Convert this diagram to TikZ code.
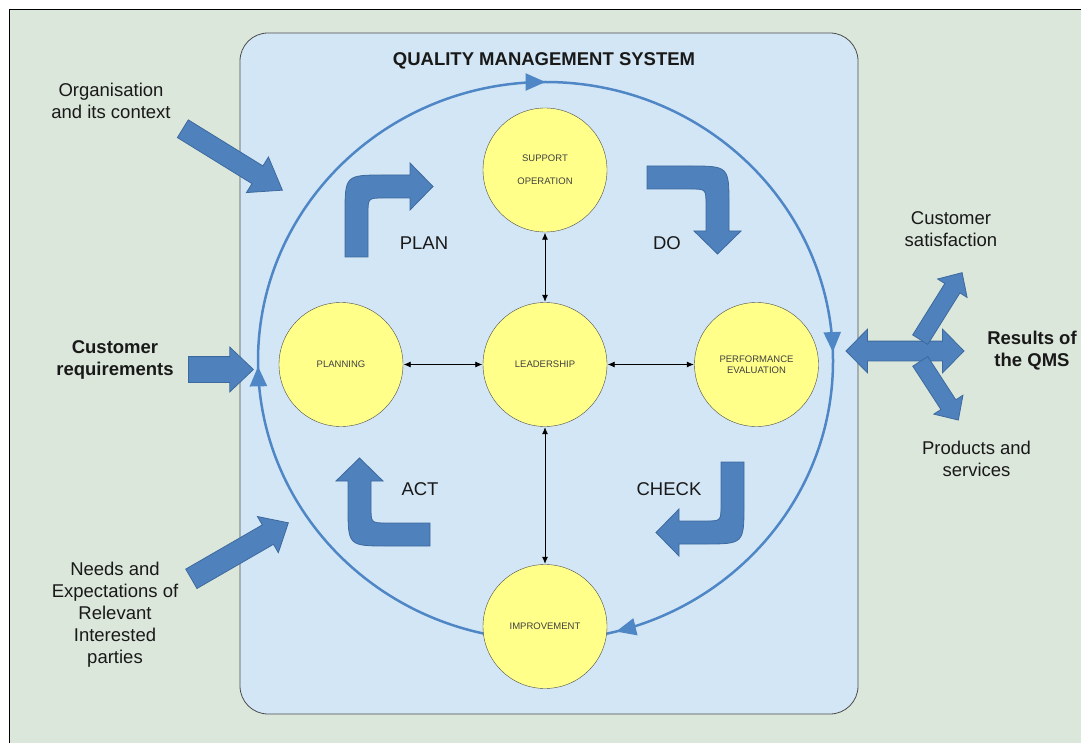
\documentclass[tikz,border=0pt]{standalone}
\usepackage{fontspec}
\setmainfont{Liberation Sans}
\usetikzlibrary{shapes.arrows,arrows.meta,decorations.markings}

\definecolor{pagegreen}{HTML}{DCE7DB}
\definecolor{qmsblue}{HTML}{D3E6F5}
\definecolor{phaseyellow}{HTML}{FFFF8A}
\definecolor{arrowblue}{HTML}{4F81BD}
\definecolor{arrowedge}{HTML}{3D6A9E}
\definecolor{cycleblue}{HTML}{4F86C6}

\tikzset{
	phase/.style = {shape=circle, draw=black!70, fill=phaseyellow, minimum size=124pt, inner sep=0pt, align=center, text=black!75, font=\fontsize{9.5}{11}\selectfont},
	link/.style = {{Latex[length=7pt,width=6pt]}-{Latex[length=7pt,width=6pt]}, black, line width=0.8pt, shorten <=0.5pt, shorten >=0.5pt},
	bent/.style = {draw=arrowedge, fill=arrowblue, line width=0.8pt},
	bigarrow/.style = {single arrow, draw=arrowedge, fill=arrowblue, line width=0.8pt, inner xsep=0pt, minimum width=0pt, anchor=tail},
	sidetext/.style = {align=center, text=black!90, font=\fontsize{18.5}{22}\selectfont},
	boldtext/.style = {align=center, text=black!90, font=\bfseries\fontsize{18.5}{22}\selectfont},
	pdca/.style = {draw=cycleblue, line width=2.5pt, postaction={decorate}, decoration={markings,
		mark=at position 0.005 with {\arrowreversed[cycleblue]{Triangle[length=20pt,width=17pt]}},
		mark=at position 0.25 with {\arrowreversed[cycleblue]{Triangle[length=20pt,width=17pt]}},
		mark=at position 0.503 with {\arrowreversed[cycleblue]{Triangle[length=20pt,width=17pt]}},
		mark=at position 0.79 with {\arrowreversed[cycleblue]{Triangle[length=20pt,width=17pt]}}}},
}

% bent block arrow, drawn going up and turning right
\newcommand{\bentarrow}{%
	\path[bent] (0,0) -- (0,-42) .. controls (0,-82) .. (40,-82) -- (65,-82) -- (65,-94) -- (88,-70.5) -- (65,-47) -- (65,-59) -- (39,-59) .. controls (23,-59) .. (23,-43) -- (23,0) -- cycle;}

\begin{document}
\begin{tikzpicture}[x=1pt, y=-1pt]
	\useasboundingbox (0,0) rectangle (1081,743);
	\fill[pagegreen] (9.5,9.5) rectangle (1081,743);
	\draw[line width=0.8pt] (1081,9.5) -- (9.5,9.5) -- (9.5,743);

	% the system box
	\draw[draw=black!70, fill=qmsblue, line width=0.8pt, rounded corners=28pt] (240,33) rectangle (858,714);
	\node[boldtext] (title) at (544,61) {QUALITY MANAGEMENT SYSTEM};
	\draw[pdca] (545.5,361) ellipse [x radius=287.5pt, y radius=279pt];

	\node[phase] (support) at (545,170) {SUPPORT\\[12pt]OPERATION};
	\node[phase] (planning) at (341,364.5) {PLANNING};
	\node[phase] (leader) at (545,364.5) {LEADERSHIP};
	\node[phase] (perf) at (756.5,364.5) {PERFORMANCE\\EVALUATION};
	\node[phase] (improve) at (545,626.5) {IMPROVEMENT};

	\draw[link] (leader) -- (support);
	\draw[link] (leader) -- (planning);
	\draw[link] (leader) -- (perf);
	\draw[link] (leader) -- (improve);

	\begin{scope}[shift={(345,257)}] \bentarrow \end{scope}
	\begin{scope}[shift={(647,166)}, rotate=-90] \bentarrow \end{scope}
	\begin{scope}[shift={(744,462)}, rotate=180] \bentarrow \end{scope}
	\begin{scope}[shift={(430,546)}, rotate=90] \bentarrow \end{scope}

	\node[sidetext] (plan) at (424,243) {PLAN};
	\node[sidetext] (do) at (667,243) {DO};
	\node[sidetext] (check) at (669,489) {CHECK};
	\node[sidetext] (act) at (420,489) {ACT};

	% inputs
	\node[bigarrow, inner ysep=10pt, single arrow head extend=10.5pt, single arrow tip angle=71, minimum height=117pt, rotate=-31.7] (orgarrow) at (182.5,128.5) {};
	\node[bigarrow, inner ysep=12.5pt, single arrow head extend=9.5pt, single arrow tip angle=87, minimum height=65pt] (reqarrow) at (188,369.5) {};
	\node[bigarrow, inner ysep=10.8pt, single arrow head extend=9.7pt, single arrow tip angle=83, minimum height=112pt, rotate=30] (needarrow) at (191,579) {};

	\node[sidetext] (org) at (111,101) {Organisation\\and its context};
	\node[boldtext] (custreq) at (115,360) {Customer\\requirements};
	\node[sidetext] (needs) at (115,614.5) {Needs and\\Expectations of\\Relevant\\Interested\\parties};

	% outputs
	\node[double arrow, draw=arrowedge, fill=arrowblue, line width=0.8pt, inner xsep=0pt, inner ysep=9.5pt, minimum width=0pt, double arrow head extend=12pt, double arrow tip angle=91, minimum height=118pt] (resarrow) at (905,351) {};
	\node[bigarrow, inner ysep=8.5pt, single arrow head extend=8.5pt, single arrow tip angle=87, minimum height=79pt, rotate=58] (satarrow) at (920,340) {};
	\node[bigarrow, inner ysep=8.5pt, single arrow head extend=8.5pt, single arrow tip angle=87, minimum height=70pt, rotate=-57] (prodarrow) at (920,361) {};

	\node[sidetext] (custsat) at (951,229) {Customer\\satisfaction};
	\node[boldtext] (results) at (1032,351) {Results of\\the QMS};
	\node[sidetext] (products) at (976.5,459) {Products and\\services};
\end{tikzpicture}
\end{document}
